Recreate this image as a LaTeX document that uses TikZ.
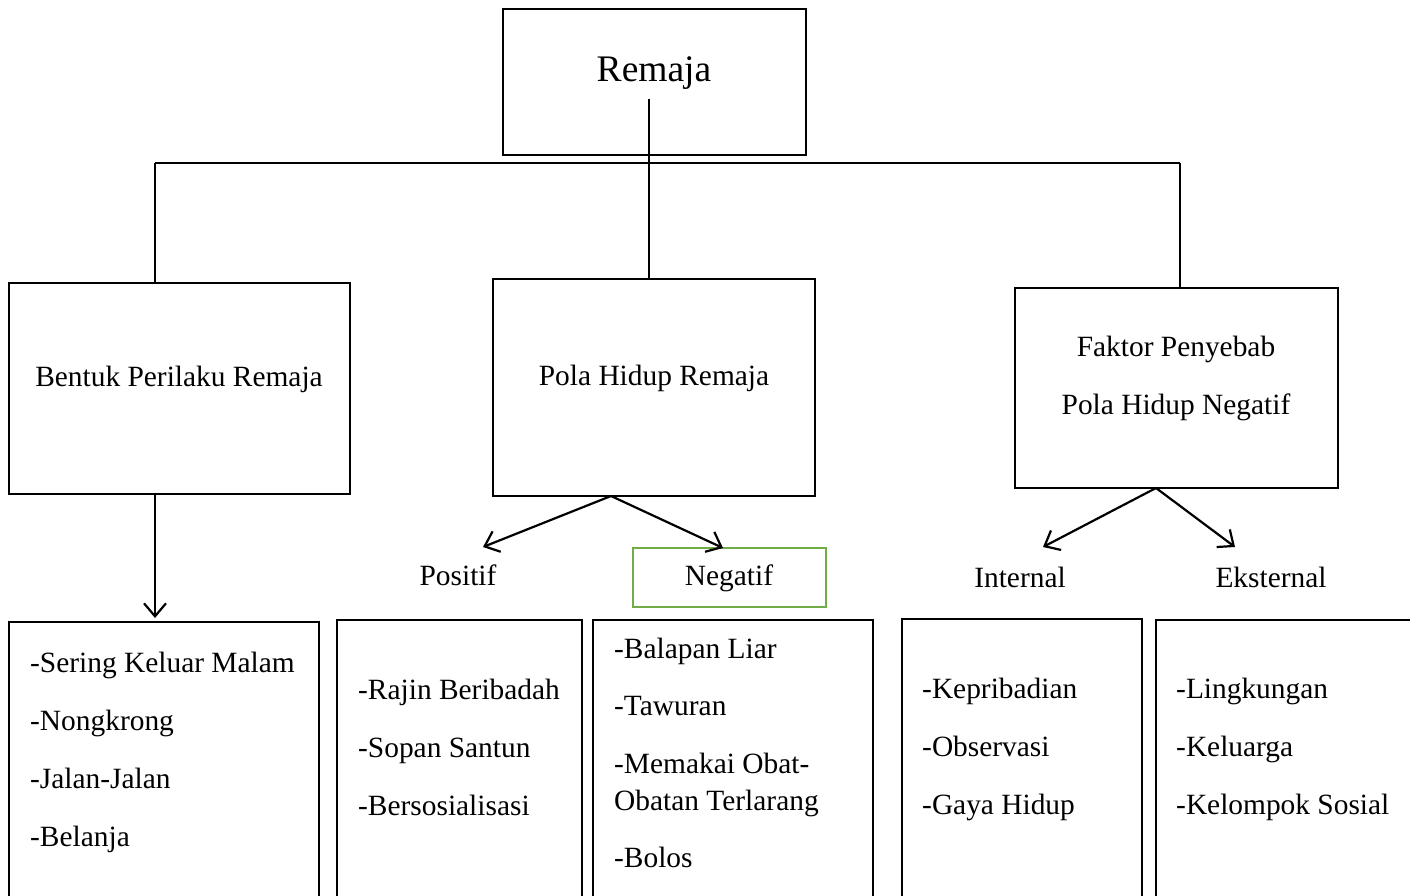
\documentclass[tikz,border=0pt]{standalone}
\usepackage{fontspec}
\setmainfont{Liberation Serif}
\usetikzlibrary{arrows.meta}
\definecolor{boxgreen}{RGB}{112,173,71}
\begin{document}
\begin{tikzpicture}[x=1pt,y=-1pt,
  box/.style={draw, line width=2.6pt, inner sep=0pt, outer sep=0pt, rectangle, anchor=north west},
  conn/.style={line width=2.3pt},
  arr/.style={line width=2.2pt, -{Straight Barb[length=13pt,width=22pt]}},
  txt/.style={inner sep=0pt, font=\fontsize{29.4}{34}\selectfont},
  item/.style={txt, anchor=base west},
  lbl/.style={txt, anchor=base},
]
\clip (0,0) rectangle (1410,896);
\fill[white] (0,0) rectangle (1410,896);

% boxes
\node[box, minimum width=303pt, minimum height=146pt] (remaja) at (503,9) {};
\node[box, minimum width=341pt, minimum height=211pt] (bentuk) at (9,283) {};
\node[box, minimum width=322pt, minimum height=217pt] (pola) at (493,279) {};
\node[box, minimum width=323pt, minimum height=200pt] (faktor) at (1015,288) {};
\node[box, minimum width=310pt, minimum height=400pt] (b1) at (9,622) {};
\node[box, minimum width=245pt, minimum height=400pt] (b2) at (337,620) {};
\node[box, minimum width=280pt, minimum height=400pt] (b3) at (593,620) {};
\node[box, minimum width=240pt, minimum height=400pt] (b4) at (902,619) {};
\node[box, minimum width=300pt, minimum height=400pt] (b5) at (1156,620) {};
\node[box, draw=boxgreen, minimum width=193pt, minimum height=59pt] (neg) at (633,548) {};

% titles
\node[lbl, font=\fontsize{37.5}{42}\selectfont] (tRemaja) at (654,82) {Remaja};
\node[lbl] (tBentuk) at (179,386) {Bentuk Perilaku Remaja};
\node[lbl] (tPola) at (654,385) {Pola Hidup Remaja};
\node[lbl] (tF1) at (1176,356) {Faktor Penyebab};
\node[lbl] (tF2) at (1176,414) {Pola Hidup Negatif};
\node[lbl] (tPos) at (458,585) {Positif};
\node[lbl] (tNeg) at (729,585) {Negatif};
\node[lbl] (tInt) at (1020,587) {Internal};
\node[lbl] (tEks) at (1271,587) {Eksternal};

% lists
\node[item] (i11) at (30,672) {-Sering Keluar Malam};
\node[item] (i12) at (30,730) {-Nongkrong};
\node[item] (i13) at (30,788) {-Jalan-Jalan};
\node[item] (i14) at (30,846) {-Belanja};

\node[item] (i21) at (358,699) {-Rajin Beribadah};
\node[item] (i22) at (358,757) {-Sopan Santun};
\node[item] (i23) at (358,815) {-Bersosialisasi};

\node[item] (i31) at (614,658) {-Balapan Liar};
\node[item] (i32) at (614,715) {-Tawuran};
\node[item] (i33) at (614,773) {-Memakai Obat-};
\node[item] (i34) at (614,810) {Obatan Terlarang};
\node[item] (i35) at (614,867) {-Bolos};

\node[item] (i41) at (922,698) {-Kepribadian};
\node[item] (i42) at (922,756) {-Observasi};
\node[item] (i43) at (922,814) {-Gaya Hidup};

\node[item] (i51) at (1176,698) {-Lingkungan};
\node[item] (i52) at (1176,756) {-Keluarga};
\node[item] (i53) at (1176,814) {-Kelompok Sosial};

% connectors
\coordinate (rs) at (649,99);
\coordinate (hl) at (155,163);
\coordinate (hr) at (1180,163);
\draw[conn] (rs) -- (rs |- pola.north);
\draw[conn] (hl) -- (hr);
\draw[conn] (hl) -- (hl |- bentuk.north);
\draw[conn] (hr) -- (hr |- faktor.north);

\coordinate (tipB) at (155,618);
\draw[arr] (hl |- bentuk.south) -- (tipB);

\coordinate (pa) at (611,496);
\coordinate (tipPos) at (483,547);
\coordinate (tipNeg) at (723,548);
\draw[arr] (pa) -- (tipPos);
\draw[arr] (pa) -- (tipNeg);

\coordinate (fa) at (1156,488);
\coordinate (tipInt) at (1043,547);
\coordinate (tipEks) at (1235,547);
\draw[arr] (fa) -- (tipInt);
\draw[arr] (fa) -- (tipEks);
\end{tikzpicture}
\end{document}
